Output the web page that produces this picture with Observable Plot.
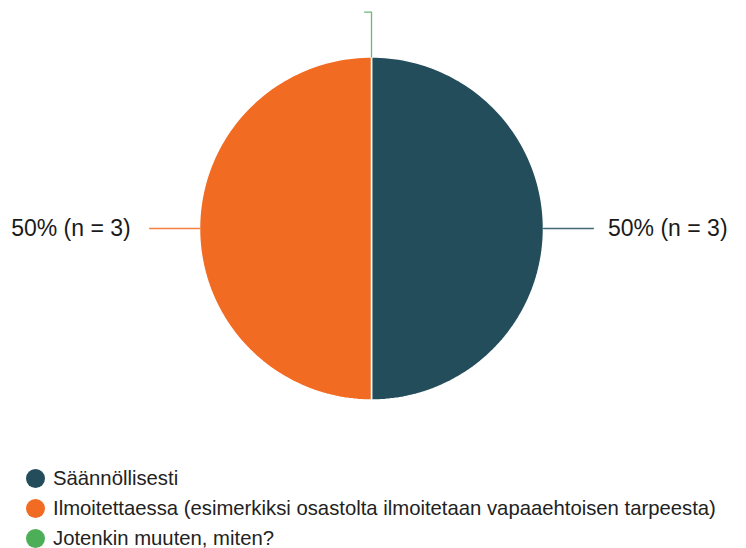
<!DOCTYPE html>
<html>
<head>
<meta charset="utf-8">
<script src="https://cdn.jsdelivr.net/npm/d3@7"></script>
<script src="https://cdn.jsdelivr.net/npm/@observablehq/plot@0.6"></script>
<style>
  html, body { margin: 0; padding: 0; background: #fff; }
  body { width: 746px; height: 548px; overflow: hidden; font-family: "Liberation Sans", Arial, sans-serif; }
  #legend { margin: 0; padding: 0; }
  .row { display: flex; align-items: center; height: 30px; }
  .sw { width: 19px; height: 19px; border-radius: 50%; margin-left: 26px; margin-right: 8px; flex: none; }
  .lab { font-size: 20.3px; color: #222; white-space: nowrap; }
</style>
</head>
<body>
<div id="chart"></div>
<div id="legend"></div>
<script>
const categories = ["Säännöllisesti", "Ilmoitettaessa (esimerkiksi osastolta ilmoitetaan vapaaehtoisen tarpeesta)", "Jotenkin muuten, miten?"];
const counts = [3, 3, 0];
const percents = [50, 50, 0];
const colors = ["#234d5b", "#f26b23", "#4caf57"];

const arcs = d3.pie().sort(null).value(d => d)(counts);

// wedge polygons (unit circle, angle 0 at top, clockwise)
const wedges = [];
arcs.forEach((a, i) => {
  if (a.endAngle - a.startAngle <= 0) return;
  const n = 120;
  wedges.push({ k: i, x: 0, y: 0 });
  for (let j = 0; j <= n; j++) {
    const t = a.startAngle + (a.endAngle - a.startAngle) * j / n;
    wedges.push({ k: i, x: Math.sin(t), y: Math.cos(t) });
  }
  wedges.push({ k: i, x: 0, y: 0 });
});

// leader lines and labels
const leaders = [];
const labels = [];
arcs.forEach((a, i) => {
  const m = (a.startAngle + a.endAngle) / 2;
  const sx = Math.sin(m), sy = Math.cos(m);
  if (counts[i] > 0) {
    leaders.push({ k: i, x: sx * 1.0, y: sy * 1.0 });
    leaders.push({ k: i, x: sx * 1.29, y: sy * 1.29 });
    labels.push({ k: i, x: sx * (sx >= 0 ? 1.375 : 1.40), y: sy, text: `${percents[i]}% (n = ${counts[i]})`, anchor: sx >= 0 ? "start" : "end" });
  } else {
    leaders.push({ k: i, x: sx, y: sy });
    leaders.push({ k: i, x: sx, y: 1.262 });
    leaders.push({ k: i, x: sx - 0.04, y: 1.262 });
  }
});

const plot = Plot.plot({
  width: 746,
  height: 463,
  margin: 0,
  x: { domain: [-1, 1], range: [199, 543], axis: null },
  y: { domain: [-1, 1], range: [399.5, 56.5], axis: null },
  style: { fontFamily: "Liberation Sans, Arial, sans-serif", background: "#fff" },
  marks: [
    Plot.line(wedges, { x: "x", y: "y", z: "k", fill: d => colors[d.k], stroke: "#fff", strokeWidth: 1.5, curve: "linear" }),
    Plot.line(leaders, { x: "x", y: "y", z: "k", stroke: d => colors[d.k], strokeWidth: 1.3, strokeOpacity: 0.85 }),
    Plot.text(labels.filter(d => d.anchor === "start"), { x: "x", y: "y", text: "text", textAnchor: "start", fontSize: 23, fill: "#1a1a1a" }),
    Plot.text(labels.filter(d => d.anchor === "end"), { x: "x", y: "y", text: "text", textAnchor: "end", fontSize: 23, fill: "#1a1a1a" })
  ]
});
document.getElementById("chart").appendChild(plot);

const legend = document.getElementById("legend");
categories.forEach((c, i) => {
  const row = document.createElement("div");
  row.className = "row";
  const sw = document.createElement("span");
  sw.className = "sw";
  sw.style.background = colors[i];
  const lab = document.createElement("span");
  lab.className = "lab";
  lab.textContent = c;
  row.appendChild(sw);
  row.appendChild(lab);
  legend.appendChild(row);
});
</script>
</body>
</html>
